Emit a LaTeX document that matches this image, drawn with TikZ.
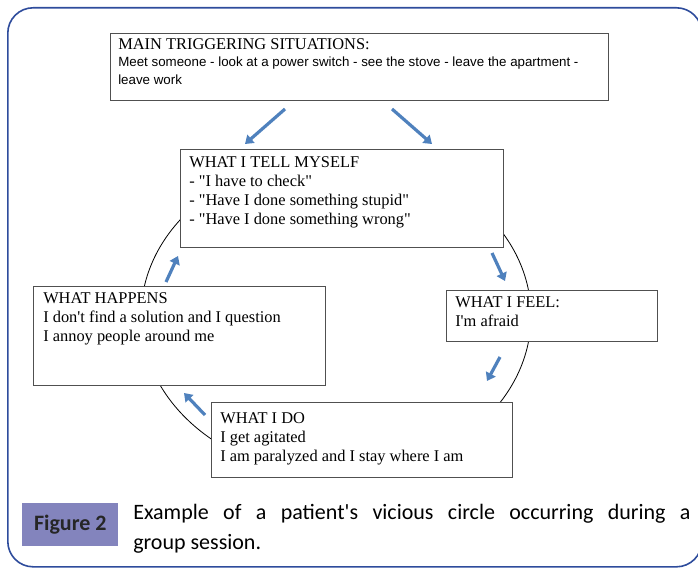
\documentclass[tikz,border=0pt]{standalone}
\usepackage{fontspec}
\setmainfont{Liberation Serif}[Ligatures=TeXOff]
\newfontfamily\arialf{Liberation Sans}[Ligatures=TeXOff]
\newfontfamily\calibrif{Carlito}[Ligatures=TeXOff]
\usetikzlibrary{arrows.meta}

\definecolor{frameblue}{HTML}{2E4C9C}
\definecolor{arrowblue}{HTML}{4F81BD}
\definecolor{labelviolet}{HTML}{8384BD}
\definecolor{boxgray}{HTML}{505050}

\begin{document}
\begin{tikzpicture}[x=0.75pt,y=-0.75pt,
	box/.style={rectangle, draw=boxgray, line width=0.6pt, fill=white, anchor=north west, inner sep=0pt},
	boxtext/.style={anchor=north west, align=left, inner sep=0pt, font=\fontsize{12.3}{14.25}\selectfont},
	cyclearrow/.style={draw=arrowblue, line width=2.4pt, -{Triangle[width=8pt,length=6pt]}}]
		
		\useasboundingbox (0,0) rectangle (698,567);
		\clip (0,0) rectangle (698,567);
		
		% Frame
		
		\node[rectangle, draw=frameblue, line width=1.2pt, rounded corners=19pt, anchor=north west,
		minimum width=520.5pt, minimum height=419.25pt]
		(frame) at (7,7) {};
		
		% Circle
		
		\draw[line width=0.6pt] (336,316) ellipse [x radius=195, y radius=160];
		
		% Node
		
		\node[box, minimum width=373.5pt, minimum height=50.25pt]
		(trigger) at (110,33) {};
		\node[boxtext]
		(triggerTitle) at (118,38) {MAIN TRIGGERING SITUATIONS:};
		\node[boxtext, font=\arialf\fontsize{10}{13}\selectfont]
		(triggerText) at (118,57) {Meet someone - look at a power switch - see the stove - leave the apartment -\\leave work};
		
		\node[box, minimum width=242.25pt, minimum height=73.5pt]
		(tell) at (180,149) {};
		\node[boxtext]
		(tellText) at (189,156) {WHAT I TELL MYSELF\\- "I have to check"\\- "Have I done something stupid"\\- "Have I done something wrong"};
		
		\node[box, minimum width=158.25pt, minimum height=38.25pt]
		(feel) at (446,290) {};
		\node[boxtext]
		(feelText) at (455,296) {WHAT I FEEL:\\I'm afraid};
		
		\node[box, minimum width=225.75pt, minimum height=56.25pt]
		(do) at (211,402) {};
		\node[boxtext]
		(doText) at (220,412) {WHAT I DO\\I get agitated\\I am paralyzed and I stay where I am};
		
		\node[box, minimum width=219pt, minimum height=74.25pt]
		(happens) at (33,286) {};
		\node[boxtext]
		(happensText) at (43,292) {WHAT HAPPENS\\I don't find a solution and I question\\I annoy people around me};
		
		% Arrow ends
		
		\coordinate (a1s) at (285,109); \coordinate (a1e) at (245,144);
		\coordinate (a2s) at (392,109); \coordinate (a2e) at (432,144);
		\coordinate (a3s) at (492,253); \coordinate (a3e) at (505,281);
		\coordinate (a4s) at (500,357); \coordinate (a4e) at (487,381);
		\coordinate (a5s) at (205,415); \coordinate (a5e) at (184,393);
		\coordinate (a6s) at (166,282); \coordinate (a6e) at (178,256);
		
		% EDGE
		
		\draw[cyclearrow] (a1s) -- (a1e);
		\draw[cyclearrow] (a2s) -- (a2e);
		\draw[cyclearrow] (a3s) -- (a3e);
		\draw[cyclearrow] (a4s) -- (a4e);
		\draw[cyclearrow] (a5s) -- (a5e);
		\draw[cyclearrow] (a6s) -- (a6e);
		
		% Caption
		
		\node[rectangle, fill=labelviolet, anchor=north west, minimum width=72pt, minimum height=32.25pt,
		inner sep=0pt, font=\calibrif\bfseries\fontsize{16.5}{18}\selectfont, text=black!85]
		(label) at (22,503) {Figure 2};
		\node[anchor=north west, inner sep=0pt, text width=418pt, align=justify,
		font=\calibrif\fontsize{16.5}{22.5}\selectfont]
		(caption) at (133,504) {Example of a patient's vicious circle occurring during a\linebreak group session.};
		
	\end{tikzpicture}
\end{document}
